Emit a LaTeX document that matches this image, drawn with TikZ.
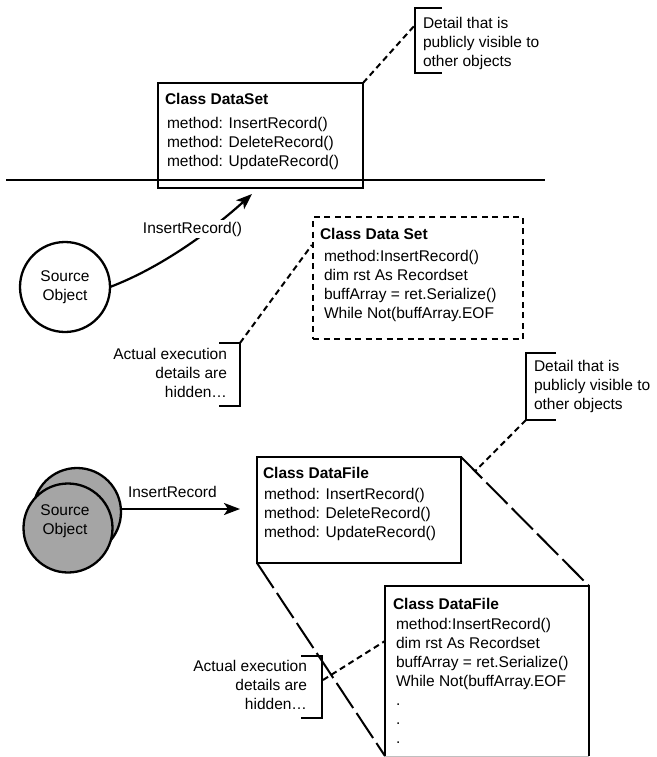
\documentclass[tikz,border=0pt]{standalone}
\usepackage{fontspec}
\setmainfont{Liberation Sans}
\usetikzlibrary{arrows.meta,calc}
\definecolor{srcgray}{RGB}{165,165,165}
\newcommand{\fsz}{\fontsize{15.5}{19}\selectfont}
\begin{document}
\begin{tikzpicture}[x=1pt,y=-1pt,
  boxnode/.style={draw, line width=2.3pt, inner sep=0pt, outer sep=0pt},
  txt/.style={inner sep=0pt, outer sep=0pt, font=\fsz, align=left},
  rtxt/.style={inner sep=0pt, outer sep=0pt, font=\fsz, align=right},
  bracket/.style={line width=2.3pt},
  shortdash/.style={line width=2pt, dash pattern=on 6pt off 4pt},
  longdash/.style={line width=2pt, dash pattern=on 30pt off 6pt},
  arr/.style={line width=2.2pt, -{Stealth[length=16pt,width=12pt,inset=4pt]}},
  srcnode/.style={circle, draw, line width=2.3pt, inner sep=0pt, outer sep=0pt}
  ]
\useasboundingbox (0,0) rectangle (656,757);
\fill[white] (0,0) rectangle (656,757);

% horizontal divider
\coordinate (hl) at (6,180);
\coordinate (hr) at (545,180);
\draw[line width=2.2pt] (hl) -- (hr);

% top class box
\node[boxnode, minimum width=205pt, minimum height=105pt] (ds) at (260.5,135.5) {};
\node[txt, anchor=base west] (dsT) at (165,105) {\bfseries Class DataSet};
\node[txt, anchor=base west] (dsM) at (167,166) {method: InsertRecord()\\method: DeleteRecord()\\method: UpdateRecord()};

% top callout
\coordinate (b1a) at (442,8);
\coordinate (b1b) at (415,8);
\coordinate (b1c) at (415,73);
\coordinate (b1d) at (442,73);
\coordinate (b1m) at (415,25);
\draw[bracket] (b1a) -- (b1b) -- (b1c) -- (b1d);
\draw[shortdash] (ds.north east) -- (b1m);
\node[txt, anchor=base west] (pub1) at (423,66.5) {Detail that is\\publicly visible to\\other objects};

% top source object and curved call
\node[srcnode, minimum size=90pt, font=\fsz, align=center] (src1) at (65,287) {Source\\Object};
\coordinate (a1e) at (252,194);
\draw[arr] (src1.east) .. controls (160,268) and (210,232) .. (a1e);
\node[txt, fill=white, inner sep=1.5pt] (lab1) at (192.5,229) {InsertRecord()};

% dashed hidden box
\node[draw, line width=2.3pt, dash pattern=on 6pt off 4.5pt, minimum width=210pt, minimum height=122pt, inner sep=0pt] (dset) at (418,278) {};
\node[txt, anchor=base west] (dsetT) at (320,239) {\bfseries Class Data Set};
\node[txt, anchor=base west] (dsetM) at (324,318.5) {method:InsertRecord()\\dim rst As Recordset\\buffArray = ret.Serialize()\\While Not(buffArray.EOF};

% left callout 1
\coordinate (b2a) at (219,343);
\coordinate (b2b) at (240,343);
\coordinate (b2c) at (240,406);
\coordinate (b2d) at (219,406);
\draw[bracket] (b2a) -- (b2b) -- (b2c) -- (b2d);
\draw[shortdash] (b2b) -- ([yshift=33pt]dset.west);
\node[rtxt, anchor=base east] (hid1) at (227,397) {Actual execution\\details are\\hidden…};

% right callout 2
\coordinate (b3a) at (556,353);
\coordinate (b3b) at (526,353);
\coordinate (b3c) at (526,420);
\coordinate (b3d) at (556,420);
\draw[bracket] (b3a) -- (b3b) -- (b3c) -- (b3d);
\node[txt, anchor=base west] (pub2) at (534,409) {Detail that is\\publicly visible to\\other objects};

% bottom source object
\node[srcnode, fill=srcgray, minimum size=88pt] (back) at (77,512) {};
\node[srcnode, fill=srcgray, minimum size=89pt] (front) at (68,528) {};
\node[txt, align=center] (srcT) at (65,521) {Source\\Object};
\coordinate (a2e) at (240,509);
\draw[arr] ([yshift=3pt]back.east) -- (a2e);
\node[txt, anchor=base west] (lab2) at (128,497) {InsertRecord};

% middle class box
\node[boxnode, minimum width=204pt, minimum height=106pt] (df1) at (359,510) {};
\node[txt, anchor=base west] (df1T) at (263,478) {\bfseries Class DataFile};
\node[txt, anchor=base west] (df1M) at (264,537.5) {method: InsertRecord()\\method: DeleteRecord()\\method: UpdateRecord()};

% bottom (expanded) class box
\node[inner sep=0pt, outer sep=0pt, minimum width=204pt, minimum height=170pt] (df2) at (487,671) {};
\draw[line width=2.3pt] (df2.south west) -- (df2.north west) -- (df2.north east) -- (df2.south east);
\draw[black!25, line width=0.6pt] (df2.south west) -- (df2.south east);
\node[txt, anchor=base west] (df2T) at (393,609) {\bfseries Class DataFile};
\node[txt, anchor=base west] (df2M) at (396,743.5) {method:InsertRecord()\\dim rst As Recordset\\buffArray = ret.Serialize()\\While Not(buffArray.EOF\\.\\.\\.};

% zoom lines
\draw[longdash] (df1.north east) -- (df2.north east);
\draw[longdash] (df1.south west) -- (df2.south west);
\coordinate (zm) at ($(df1.north east)!0.11!(df2.north east)$);
\draw[shortdash] (b3c) -- (zm);

% left callout 2
\coordinate (b4a) at (301,656);
\coordinate (b4b) at (322,656);
\coordinate (b4c) at (322,718);
\coordinate (b4d) at (301,718);
\coordinate (b4m) at (323,680);
\draw[bracket] (b4a) -- (b4b) -- (b4c) -- (b4d);
\draw[shortdash] (b4m) -- ([yshift=30pt]df2.west);
\node[rtxt, anchor=base east] (hid2) at (307,709) {Actual execution\\details are\\hidden…};
\end{tikzpicture}
\end{document}
